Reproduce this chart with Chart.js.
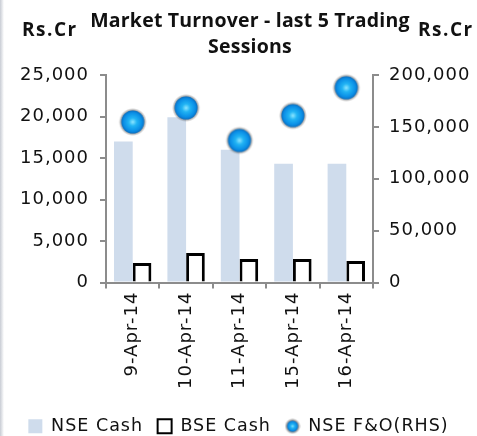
<!DOCTYPE html>
<html><head><meta charset="utf-8">
<script src="https://cdn.jsdelivr.net/npm/chart.js@4/dist/chart.umd.min.js"></script>
<style>html,body{margin:0;padding:0;background:#fff;overflow:hidden}</style>
</head><body><canvas id="c" width="477" height="436"></canvas>
<script>
const categories = ['9-Apr-14', '10-Apr-14', '11-Apr-14', '15-Apr-14', '16-Apr-14'];
const nseCash = [17000, 19900, 16000, 14300, 14300];
const bseCash = [2350, 3550, 2830, 2830, 2600];
const nseFO = [154700, 168300, 136900, 160900, 187700];
const leftAxis = {min: 0, max: 25000, step: 5000};
const rightAxis = {min: 0, max: 200000, step: 50000};
const seriesNames = ['NSE Cash', 'BSE Cash', 'NSE F&O(RHS)'];

function sphere(size, r) {
  const cv = document.createElement('canvas');
  cv.width = size; cv.height = size;
  const g = cv.getContext('2d');
  const c = size / 2;
  const sh = g.createRadialGradient(c, c, r * 0.85, c, c, r + 2.5);
  sh.addColorStop(0, 'rgba(70,70,70,0.85)');
  sh.addColorStop(1, 'rgba(70,70,70,0)');
  g.fillStyle = sh;
  g.beginPath(); g.arc(c, c, r + 2.5, 0, Math.PI * 2); g.fill();
  const gr = g.createRadialGradient(c, c, 0, c, c, r);
  gr.addColorStop(0, '#8ee6ff');
  gr.addColorStop(0.35, '#22b4f4');
  gr.addColorStop(0.8, '#0a8ee6');
  gr.addColorStop(1, '#0b6fc0');
  g.fillStyle = gr;
  g.beginPath(); g.arc(c, c, r, 0, Math.PI * 2); g.fill();
  return cv;
}
const bigSphere = sphere(32, 11.5);
const smallSphere = sphere(16, 5.5);

const FONT = 'DejaVu Sans';

const decor = {
  id: 'decor',
  beforeUpdate(chart) { chart.ctx.letterSpacing = '1px'; },
  beforeDraw(chart) {
    const ctx = chart.ctx;
    ctx.letterSpacing = '1px';
    const lg = ctx.createLinearGradient(0, 0, 4, 0);
    lg.addColorStop(0, '#c8ccd4');
    lg.addColorStop(1, '#ffffff');
    ctx.fillStyle = lg;
    ctx.fillRect(0, 0, 4, chart.height);
  },
  afterDraw(chart) {
    const ctx = chart.ctx;
    ctx.save();
    ctx.fillStyle = '#111';
    ctx.font = 'bold 19px "Open Sans"';
    ctx.textBaseline = 'alphabetic';
    ctx.letterSpacing = '1.5px';
    ctx.textAlign = 'left';
    ctx.fillText('Rs.Cr', 22, 36);
    ctx.fillText('Rs.Cr', 418, 36);
    ctx.font = 'bold 19.5px "Open Sans"';
    ctx.letterSpacing = '0.2px';
    ctx.textAlign = 'center';
    ctx.fillText('Market Turnover - last 5 Trading', 250, 27);
    ctx.fillText('Sessions', 250, 53);
    ctx.restore();
  }
};

const axisColor = '#8c8c8c';

new Chart(document.getElementById('c'), {
  type: 'bar',
  data: {
    labels: categories,
    datasets: [
      {label: seriesNames[0], data: nseCash, yAxisID: 'y', backgroundColor: '#cfdcec', borderWidth: 0,
       categoryPercentage: 0.7, barPercentage: 1.0, order: 1},
      {label: seriesNames[1], data: bseCash, yAxisID: 'y', backgroundColor: '#ffffff', borderColor: '#000',
       borderWidth: 3, categoryPercentage: 0.7, barPercentage: 1.0, order: 1},
      {type: 'line', label: seriesNames[2], data: nseFO, yAxisID: 'y1', showLine: false,
       pointStyle: bigSphere, pointRadius: 13, pointHoverRadius: 13, clip: false, order: -1}
    ]
  },
  options: {
    responsive: false,
    devicePixelRatio: 1,
    animation: false,
    events: [],
    layout: {padding: {top: 75, left: 0, right: 0, bottom: -9}},
    plugins: {
      title: {display: false},
      tooltip: {enabled: false},
      legend: {
        position: 'bottom',
        labels: {
          usePointStyle: true,
          boxWidth: 14, boxHeight: 14, padding: 8,
          color: '#111',
          font: {family: FONT, size: 17.5},
          generateLabels: () => [
            {text: seriesNames[0] + ' ', fillStyle: '#cfdcec', strokeStyle: '#cfdcec', lineWidth: 0, pointStyle: 'rect', datasetIndex: 0, fontColor: '#111'},
            {text: seriesNames[1] + ' ', fillStyle: '#ffffff', strokeStyle: '#000', lineWidth: 2, pointStyle: 'rect', datasetIndex: 1, fontColor: '#111'},
            {text: seriesNames[2], fillStyle: '#1aa6ee', strokeStyle: '#1aa6ee', lineWidth: 0, pointStyle: smallSphere, datasetIndex: 2, fontColor: '#111'}
          ]
        }
      }
    },
    scales: {
      x: {
        type: 'category',
        offset: true,
        grid: {display: true, offset: true, drawOnChartArea: false, drawTicks: true, tickLength: 6, color: axisColor, lineWidth: 2},
        border: {display: true, color: axisColor, width: 2},
        ticks: {minRotation: 90, maxRotation: 90, autoSkip: false, color: '#111', font: {family: FONT, size: 18}, padding: 3},
        afterFit(s) { s.height = 127; }
      },
      y: {
        position: 'left',
        min: leftAxis.min, max: leftAxis.max,
        grid: {drawOnChartArea: false, drawTicks: true, tickLength: 6, color: axisColor, lineWidth: 2},
        border: {display: true, color: axisColor, width: 2},
        ticks: {stepSize: leftAxis.step, color: '#111', font: {family: FONT, size: 18}, padding: 11},
        afterFit(s) { s.width = 106; }
      },
      y1: {
        position: 'right',
        min: rightAxis.min, max: rightAxis.max,
        grid: {drawOnChartArea: false, drawTicks: true, tickLength: 6, color: axisColor, lineWidth: 2},
        border: {display: true, color: axisColor, width: 2},
        ticks: {stepSize: rightAxis.step, color: '#111', font: {family: FONT, size: 18}, padding: 10},
        afterFit(s) { s.width = 104; }
      }
    }
  },
  plugins: [decor]
});
</script>
</body></html>
